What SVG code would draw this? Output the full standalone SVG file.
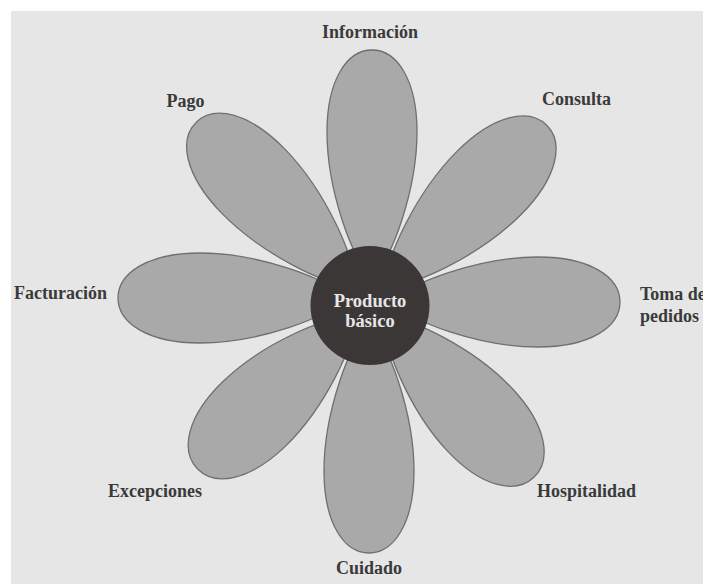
<svg xmlns="http://www.w3.org/2000/svg" width="703" height="584" viewBox="0 0 703 584">
<style>
.petal{fill:#a9a9a9;stroke:#6f6f6f;stroke-width:1.3}
.lbl{font-family:"Liberation Serif","DejaVu Serif",serif;font-weight:bold;font-size:18px;fill:#3a3a3a}
.ctr{font-family:"Liberation Serif","DejaVu Serif",serif;font-weight:bold;font-size:18.5px;fill:#e6e6e6}
</style>
<defs>
<path id="petal" class="petal" d="M 0,-22 C 19,-38 45,-110 45,-168 C 45,-220 25,-250 0,-250 C -25,-250 -45,-220 -45,-168 C -45,-110 -19,-38 0,-22 Z"/>
</defs>
<rect x="0" y="0" width="703" height="584" fill="#ffffff"/>
<rect x="11" y="11" width="692" height="573" fill="#e6e6e6"/>
<g id="petals">
<g id="petal-informacion"><use href="#petal" transform="translate(372,300)"/></g>
<g id="petal-consulta"><use href="#petal" transform="translate(370,302) rotate(45)"/></g>
<g id="petal-toma"><use href="#petal" transform="translate(370,302) rotate(90)"/></g>
<g id="petal-hospitalidad"><use href="#petal" transform="translate(370,302) rotate(137) scale(1,0.96)"/></g>
<g id="petal-cuidado"><use href="#petal" transform="translate(369,303) rotate(180)"/></g>
<g id="petal-excepciones"><use href="#petal" transform="translate(370,302) rotate(226) scale(1,0.96)"/></g>
<g id="petal-facturacion"><use href="#petal" transform="translate(368,298) rotate(270)"/></g>
<g id="petal-pago"><use href="#petal" transform="translate(370,302) rotate(316)"/></g>
</g>
<g id="connectors"></g>
<g id="center">
<circle cx="370" cy="305.5" r="59.5" fill="#3c3737"/>
<text class="ctr" x="370" y="306.5" text-anchor="middle">Producto</text>
<text class="ctr" x="370" y="327" text-anchor="middle">básico</text>
</g>
<g id="labels">
<text class="lbl" id="l-informacion" x="370" y="38" text-anchor="middle">Información</text>
<text class="lbl" id="l-pago" x="185.5" y="107" text-anchor="middle">Pago</text>
<text class="lbl" id="l-consulta" x="576.5" y="105" text-anchor="middle">Consulta</text>
<text class="lbl" id="l-facturacion" x="14" y="299">Facturación</text>
<text class="lbl" id="l-toma" x="640" y="300">Toma de</text>
<text class="lbl" id="l-pedidos" x="640" y="322">pedidos</text>
<text class="lbl" id="l-excepciones" x="108" y="497">Excepciones</text>
<text class="lbl" id="l-hospitalidad" x="537" y="497">Hospitalidad</text>
<text class="lbl" id="l-cuidado" x="369" y="574" text-anchor="middle">Cuidado</text>
</g>
</svg>
